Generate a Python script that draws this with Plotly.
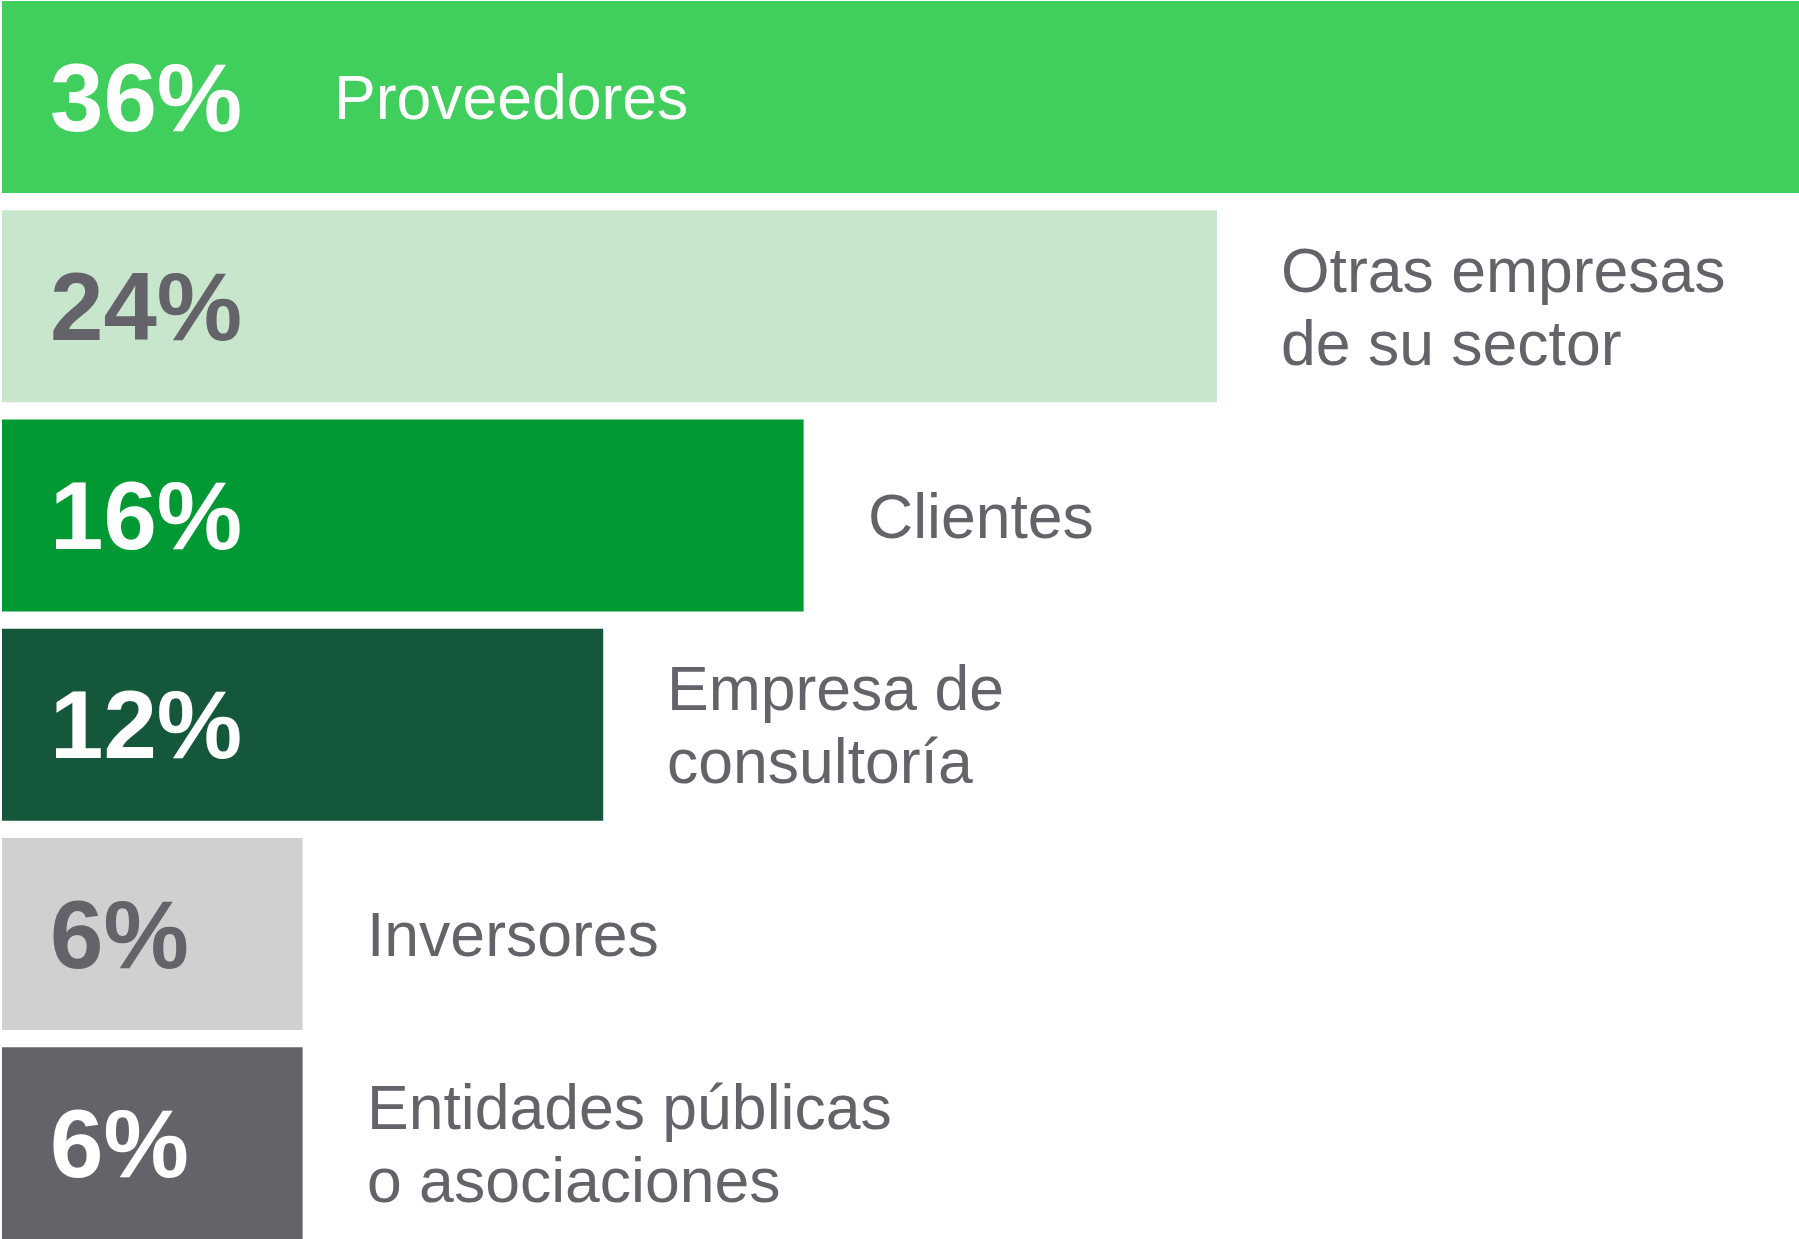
# -*- coding: utf-8 -*-
"""Barras horizontales: con quién colaboran las empresas."""

import plotly.graph_objects as go

# ── Datos ──
categories = [
    'Proveedores',
    'Otras empresas<br>de su sector',
    'Clientes',
    'Empresa de<br>consultoría',
    'Inversores',
    'Entidades públicas<br>o asociaciones',
]
share_labels = ['36%', '24%', '16%', '12%', '6%', '6%']
# longitud de cada barra (puntos porcentuales)
shares = [36, 24.25, 16, 12, 6, 6]

# ── Estilo ──
BAR_COLORS = ['#40CE5C', '#C8E6CC', '#009933', '#14573A', '#D0D0D0', '#636369']
PCT_COLORS = ['white', '#636369', 'white', 'white', '#636369', 'white']
NAME_COLORS = ['white', '#636369', '#636369', '#636369', '#636369', '#636369']
FONT = 'Liberation Sans, Arial, sans-serif'
W, H = 1799, 1239
PX_PER_UNIT = 50.1
X_MIN = -2 / PX_PER_UNIT
X_MAX = X_MIN + W / PX_PER_UNIT
LINE_PITCH = 73

ys = list(range(len(categories)))

fig = go.Figure()
fig.add_trace(
    go.Bar(
        x=shares, y=ys,
        orientation='h',
        marker=dict(color=BAR_COLORS, line=dict(width=0)),
        hoverinfo='skip',
    )
)

# porcentajes dentro de la barra
for y, txt, col in zip(ys, share_labels, PCT_COLORS):
    fig.add_annotation(
        x=0, y=y, xref='x', yref='y',
        text=f'<b>{txt}</b>',
        xanchor='left', yanchor='middle',
        xshift=46, yshift=0,
        showarrow=False,
        font=dict(family=FONT, size=96, color=col),
    )

# nombres de categoría a la derecha (o dentro si la barra llena el ancho)
for y, name, val, col in zip(ys, categories, shares, NAME_COLORS):
    lines = name.split('<br>')
    if val >= X_MAX:
        x0, dx = 0, 330
    else:
        x0, dx = val, 62
    n = len(lines)
    for i, line in enumerate(lines):
        fig.add_annotation(
            x=x0, y=y, xref='x', yref='y',
            text=line,
            xanchor='left', yanchor='middle',
            xshift=dx,
            yshift=((n - 1) / 2 - i) * LINE_PITCH,
            showarrow=False,
            font=dict(family=FONT, size=62.5, color=col),
        )

bar_h = 192 / 209.25
y_top = -bar_h / 2 - 1 / 209.25
y_bot = y_top + H / 209.25

fig.update_layout(
    width=W, height=H,
    margin=dict(l=0, r=0, t=0, b=0),
    paper_bgcolor='white',
    plot_bgcolor='white',
    showlegend=False,
    bargap=1 - bar_h,
    font=dict(family=FONT),
)
fig.update_xaxes(range=[X_MIN, X_MAX], visible=False, fixedrange=True)
fig.update_yaxes(range=[y_bot, y_top], visible=False, fixedrange=True)

# sin el margen por defecto del <body>
fig.write_html(
    'out.html',
    config={'displayModeBar': False},
    post_script="document.body.style.margin='0';",
)
